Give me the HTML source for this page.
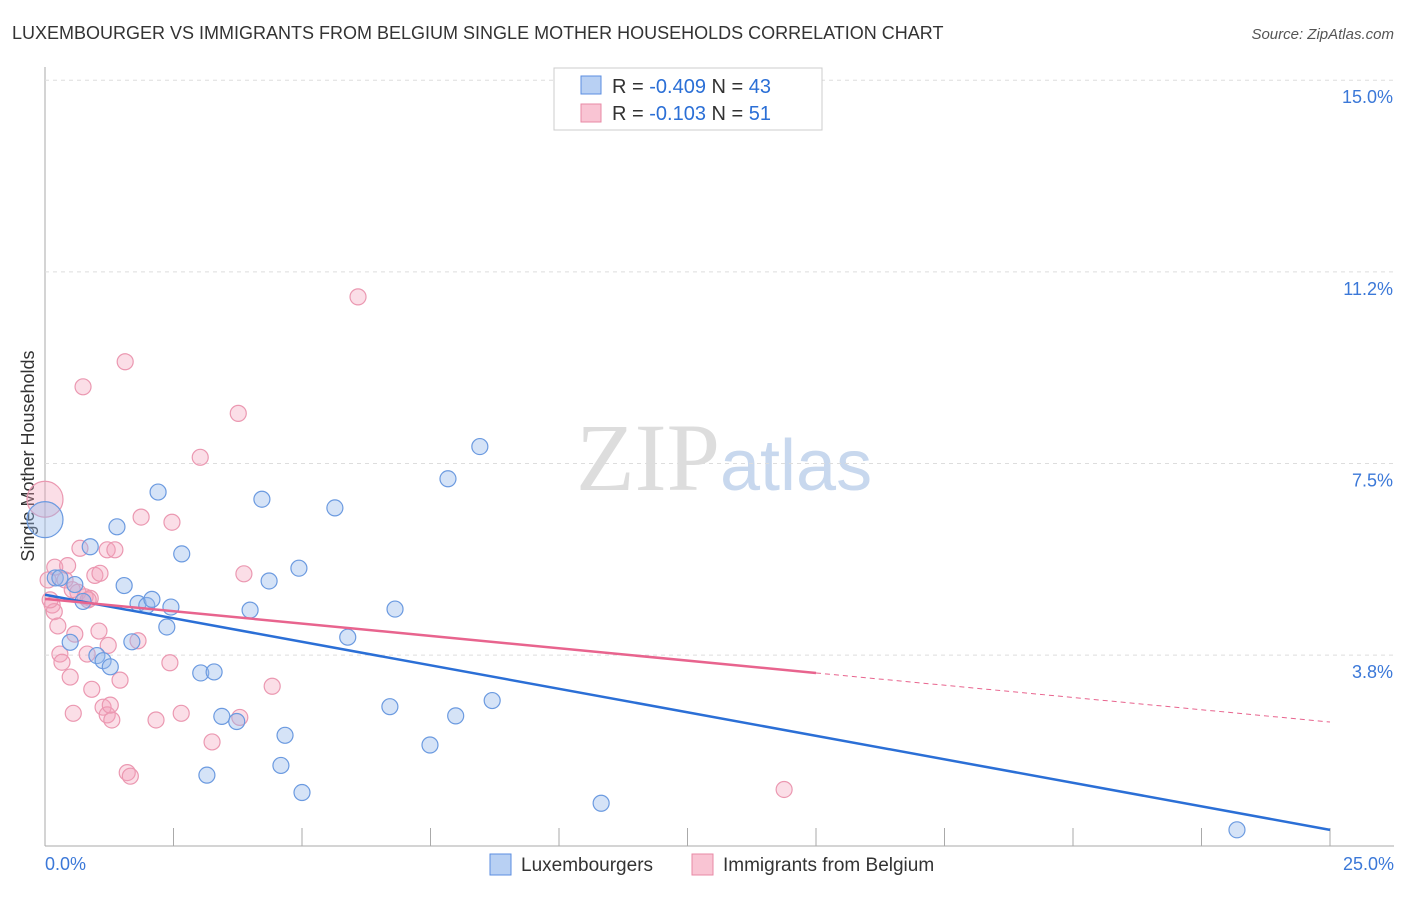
<!DOCTYPE html>
<html><head><meta charset="utf-8"><style>
body{margin:0;background:#fff;font-family:"Liberation Sans",sans-serif}
</style></head><body>
<svg id="c" width="1406" height="892" xmlns="http://www.w3.org/2000/svg">
<text x="12" y="39" font-size="18" fill="#333">LUXEMBOURGER VS IMMIGRANTS FROM BELGIUM SINGLE MOTHER HOUSEHOLDS CORRELATION CHART</text>
<text x="1394" y="39" font-size="15" fill="#555" font-style="italic" text-anchor="end">Source: ZipAtlas.com</text>
<text x="0" y="0" transform="translate(34,456) rotate(-90)" font-size="18" fill="#333" text-anchor="middle">Single Mother Households</text>
<text x="720" y="490" font-size="96" fill="#ddd" font-family="Liberation Serif" text-anchor="end">ZIP</text>
<text x="720" y="490" font-size="72" fill="#c8d8ee">atlas</text>
<g id="grid"></g><g id="pts"></g><g id="lines"></g>
<g>
<rect x="554" y="68" width="268" height="62" fill="#fff" stroke="#ccc"/>
<rect x="581" y="76" width="20" height="18" fill="#b8d0f3" stroke="#5b8ee0"/>
<rect x="581" y="104" width="20" height="18" fill="#f9c4d3" stroke="#e88aa6"/>
<text x="612" y="93" font-size="20" fill="#333">R = <tspan fill="#2b6fd6">-0.409</tspan>   N = <tspan fill="#2b6fd6">43</tspan></text>
<text x="612" y="120" font-size="20" fill="#333">R =  <tspan fill="#2b6fd6">-0.103</tspan>   N =  <tspan fill="#2b6fd6">51</tspan></text>
</g>
<g>
<rect x="490" y="854" width="21" height="21" fill="#b8d0f3" stroke="#5b8ee0"/>
<text x="521" y="871" font-size="19" fill="#333">Luxembourgers</text>
<rect x="692" y="854" width="21" height="21" fill="#f9c4d3" stroke="#e88aa6"/>
<text x="723" y="871" font-size="19" fill="#333">Immigrants from Belgium</text>
</g>
</svg>
<script>
const xTicks=[0,2.5,5,7.5,10,12.5,15,17.5,20,22.5,25];
const yTicks=[3.75,7.5,11.25,15];
const yTickLabels=["3.8%","7.5%","11.2%","15.0%"];
const luxX=[0,0.2,0.58,0.88,1.4,2.2,1.54,0.49,1.01,1.13,1.27,1.69,1.81,1.98,2.08,2.37,2.45,2.66,3.03,3.29,3.44,3.73,3.99,4.22,4.36,4.67,4.59,4.94,5.0,3.15,5.64,5.89,6.71,6.81,7.49,7.84,7.99,8.46,8.7,10.82,23.19,0.74,0.29];
const luxY=[6.4,5.26,5.13,5.87,6.26,6.94,5.11,4.0,3.74,3.64,3.52,4.01,4.76,4.72,4.84,4.3,4.69,5.73,3.4,3.42,2.55,2.45,4.63,6.8,5.2,2.18,1.59,5.45,1.06,1.4,6.63,4.1,2.74,4.65,1.99,7.2,2.56,7.83,2.86,0.85,0.33,4.8,5.26];
const belX=[0,0.19,0.14,0.18,0.25,0.29,0.33,0.44,0.49,0.55,0.58,0.64,0.68,0.74,0.78,0.88,0.82,0.91,0.97,1.05,1.07,1.13,1.21,1.21,1.3,1.36,1.46,1.56,1.6,1.66,1.81,1.87,2.16,2.43,2.47,2.65,3.02,3.25,3.76,3.79,3.87,4.42,6.09,14.38,0.1,0.39,0.84,0.53,0.06,1.23,1.27];
const belY=[6.8,5.47,4.73,4.6,4.32,3.77,3.61,5.5,3.32,2.61,4.16,4.98,5.84,9.0,4.89,4.86,3.77,3.08,5.31,4.22,5.35,2.73,5.81,2.58,2.48,5.81,3.26,9.49,1.45,1.38,4.03,6.45,2.48,3.6,6.35,2.61,7.62,2.05,8.48,2.53,5.34,3.14,10.76,1.12,4.83,5.22,4.83,5.03,5.22,3.94,2.77];
const X=v=>45+v*51.4, Y=v=>846.7-v*51.1;
const NS="http://www.w3.org/2000/svg";
function mk(t,a,p){const e=document.createElementNS(NS,t);for(const k in a)e.setAttribute(k,a[k]);p.appendChild(e);return e;}
const g=document.getElementById('grid');
let ax=mk('line',{x1:45,y1:67,x2:45,y2:846,stroke:'#aaa'},g);


let bx=mk('line',{x1:45,y1:846,x2:1394,y2:846,stroke:'#aaa'},g);


yTicks.forEach((v,i)=>{
 const l=mk('line',{x1:45,x2:1394,y1:Y(v),y2:Y(v),stroke:'#ddd','stroke-dasharray':'4,4'},g);
 
 
 const t=mk('text',{x:1393,y:Y(v)+23,'font-size':18,fill:'#3b78d8','text-anchor':'end'},g);
 t.textContent=yTickLabels[i];
 
 
});
xTicks.forEach(v=>{
 const l=mk('line',{x1:X(v),x2:X(v),y1:828,y2:846,stroke:'#aaa'},g);
 
 
});
[[0,"0.0%",'start',45],[25,"25.0%",'end',1394]].forEach(a=>{
 const t=mk('text',{x:a[3],y:870,'font-size':18,fill:'#3b78d8','text-anchor':a[2]},g);
 t.textContent=a[1];
 
 
});
const p=document.getElementById('pts');
belX.forEach((v,i)=>{
 const c=mk('circle',{cx:X(v),cy:Y(belY[i]),r:i==0?18:8,fill:'rgba(244,160,185,0.35)',stroke:'#eb98b1','stroke-width':1.2},p);
 
 
});
luxX.forEach((v,i)=>{
 const c=mk('circle',{cx:X(v),cy:Y(luxY[i]),r:i==0?18:8,fill:'rgba(150,185,235,0.4)',stroke:'#6b9ae0','stroke-width':1.2},p);
 
 
});
const L=document.getElementById('lines');
let l1=mk('line',{x1:X(0),y1:Y(4.93),x2:X(25),y2:Y(0.33),stroke:'#2b6fd6','stroke-width':2.5},L);


let l2=mk('line',{x1:X(0),y1:Y(4.85),x2:X(15),y2:Y(3.4),stroke:'#e8648e','stroke-width':2.5},L);


let l3=mk('line',{x1:X(15),y1:Y(3.4),x2:X(25),y2:Y(2.44),stroke:'#e8648e','stroke-width':1,'stroke-dasharray':'5,4'},L);


</script>
</body></html>
